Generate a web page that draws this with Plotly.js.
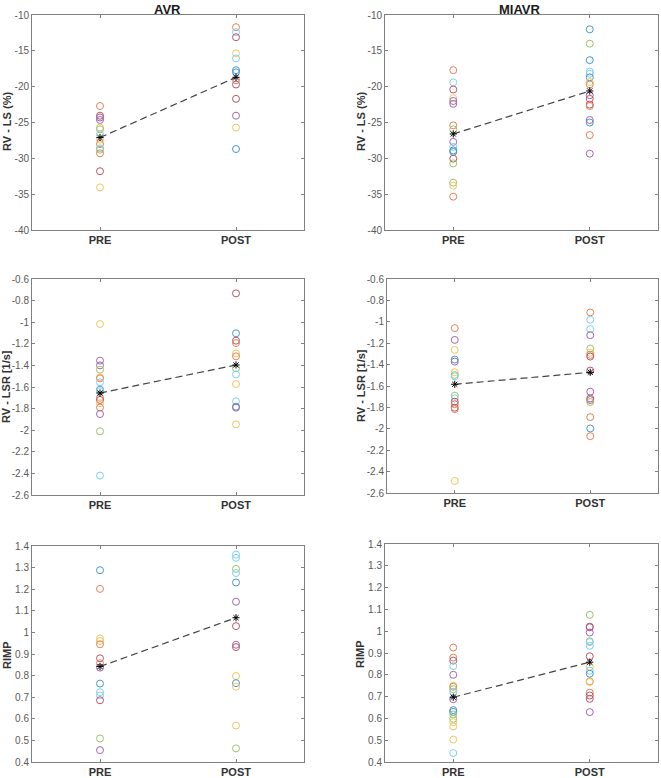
<!DOCTYPE html>
<html>
<head>
<meta charset="utf-8">
<script src="https://cdn.plot.ly/plotly-3.0.1.min.js"></script>
<style>html,body{margin:0;padding:0;background:#fff;}#chart{width:661px;height:778px;}</style>
</head>
<body>
<div id="chart"></div>
<script>
// ---- categories and labels ----
const groups = ['AVR', 'MIAVR'];
const xCats = ['PRE', 'POST'];
const metricLabels = ['RV - LS (%)', 'RV - LSR [1/s]', 'RIMP'];

// ---- tick labels ----
const lsTicks = [-40, -35, -30, -25, -20, -15, -10];
const lsTickText = ['-40', '-35', '-30', '-25', '-20', '-15', '-10'];
const lsrTicks = [-2.6, -2.4, -2.2, -2, -1.8, -1.6, -1.4, -1.2, -1, -0.8, -0.6];
const lsrTickText = ['-2.6', '-2.4', '-2.2', '-2', '-1.8', '-1.6', '-1.4', '-1.2', '-1', '-0.8', '-0.6'];
const rimpTicks = [0.4, 0.5, 0.6, 0.7, 0.8, 0.9, 1, 1.1, 1.2, 1.3, 1.4];
const rimpTickText = ['0.4', '0.5', '0.6', '0.7', '0.8', '0.9', '1', '1.1', '1.2', '1.3', '1.4'];

// ---- data: AVR RV-LS ----
const avrLsPre  = [-22.7, -24.05, -24.3, -24.65, -25.7, -25.95, -26.65, -27.4, -28.0, -28.6, -28.8, -29.3, -31.8, -34.05];
const avrLsPost = [-11.7, -12.4, -13.1, -15.35, -16.05, -17.7, -18.0, -19.1, -19.7, -21.7, -24.05, -25.7, -28.7];
const avrLsMean = [-27.1, -18.7];
// ---- data: MIAVR RV-LS ----
const miLsPre  = [-17.7, -19.4, -20.4, -21.6, -22.0, -22.4, -25.4, -25.95, -27.7, -28.4, -28.9, -29.1, -30.05, -30.7, -33.4, -33.8, -35.35];
const miLsPost = [-12.0, -14.0, -16.3, -17.9, -18.2, -18.7, -19.35, -19.7, -21.2, -21.7, -22.5, -22.7, -24.65, -25.0, -26.75, -29.35];
const miLsMean = [-26.6, -20.6];
// ---- data: AVR RV-LSR ----
const avrLsrPre  = [-1.017, -1.356, -1.40, -1.44, -1.51, -1.52, -1.557, -1.625, -1.64, -1.70, -1.72, -1.75, -1.79, -1.85, -2.01, -2.42];
const avrLsrPost = [-0.733, -1.103, -1.171, -1.193, -1.29, -1.316, -1.427, -1.483, -1.572, -1.733, -1.782, -1.791, -1.946];
const avrLsrMean = [-1.656, -1.396];
// ---- data: MIAVR RV-LSR ----
const miLsrPre  = [-1.059, -1.169, -1.2625, -1.353, -1.372, -1.472, -1.497, -1.51, -1.69, -1.716, -1.747, -1.769, -1.803, -1.816, -2.4875];
const miLsrPost = [-0.9125, -0.981, -1.069, -1.125, -1.25, -1.29, -1.309, -1.325, -1.456, -1.653, -1.716, -1.731, -1.75, -1.891, -1.997, -2.069];
const miLsrMean = [-1.584, -1.472];
// ---- data: AVR RIMP ----
const avrRimpPre  = [1.288, 1.2015, 0.972, 0.96, 0.945, 0.88, 0.857, 0.837, 0.763, 0.723, 0.708, 0.686, 0.509, 0.455];
const avrRimpPost = [1.36, 1.345, 1.294, 1.275, 1.231, 1.142, 1.029, 0.943, 0.932, 0.798, 0.765, 0.749, 0.569, 0.463];
const avrRimpMean = [0.842, 1.068];
// ---- data: MIAVR RIMP ----
const miRimpPre  = [0.925, 0.879, 0.865, 0.84, 0.80, 0.75, 0.745, 0.734, 0.722, 0.688, 0.638, 0.63, 0.618, 0.598, 0.583, 0.563, 0.503, 0.441];
const miRimpPost = [1.075, 1.021, 1.018, 0.994, 0.954, 0.95, 0.933, 0.885, 0.837, 0.819, 0.805, 0.770, 0.767, 0.718, 0.705, 0.690, 0.629];
const miRimpMean = [0.697, 0.858];

// ---- styles (MATLAB default colour order) ----
const palette = {b:'#0072BD', o:'#D95319', y:'#EDB120', p:'#7E2F8E', g:'#77AC30', c:'#4DBEEE', r:'#A2142F'};
const col = {
  avrLsPre:   'orppygcyocgory',
  avrLsPost:  'ocrycbborrpybg',
  miLsPre:    'ocryppogpcbbrggyo',
  miLsPost:   'bgbccbyoprropbop',
  avrLsrPre:  'yppgyocbcoryopgc',
  avrLsrPost: 'rbroyogcycbpy',
  miLsrPre:   'opybpygcgcroroy',
  miLsrPost:  'occpgyorrpprgobo',
  avrRimpPre: 'boyyoropbccrgp',
  avrRimpPost:'ccgcbprprybyyg',
  miRimpPre:  'oorcpyogcpbbggyyyc',
  miRimpPost: 'gprpgccrycboyorrp'
};

function colors(key, n) {
  const s = col[key];
  const out = [];
  for (let i = 0; i < n; i++) out.push(palette[s[i % s.length]] || palette.b);
  return out;
}

const panels = [
  {pre: avrLsPre,   post: avrLsPost,   mean: avrLsMean,   ck: ['avrLsPre','avrLsPost'],     ticks: lsTicks,   tt: lsTickText,   range: [-40, -10],  label: metricLabels[0]},
  {pre: miLsPre,    post: miLsPost,    mean: miLsMean,    ck: ['miLsPre','miLsPost'],       ticks: lsTicks,   tt: lsTickText,   range: [-40, -10],  label: metricLabels[0]},
  {pre: avrLsrPre,  post: avrLsrPost,  mean: avrLsrMean,  ck: ['avrLsrPre','avrLsrPost'],   ticks: lsrTicks,  tt: lsrTickText,  range: [-2.6, -0.6], label: metricLabels[1]},
  {pre: miLsrPre,   post: miLsrPost,   mean: miLsrMean,   ck: ['miLsrPre','miLsrPost'],     ticks: lsrTicks,  tt: lsrTickText,  range: [-2.6, -0.6], label: metricLabels[1]},
  {pre: avrRimpPre, post: avrRimpPost, mean: avrRimpMean, ck: ['avrRimpPre','avrRimpPost'], ticks: rimpTicks, tt: rimpTickText, range: [0.4, 1.4],  label: metricLabels[2]},
  {pre: miRimpPre,  post: miRimpPost,  mean: miRimpMean,  ck: ['miRimpPre','miRimpPost'],   ticks: rimpTicks, tt: rimpTickText, range: [0.4, 1.4],  label: metricLabels[2]}
];

// pixel boxes [left, right, top, bottom] for each panel frame
const W = 661, H = 778;
const boxes = [
  [32, 304, 15, 230], [385, 658, 15, 230],
  [32, 304, 279, 495], [387, 658, 279, 493],
  [32, 304, 546, 762], [385, 658, 544, 762]
];
const ylabPos = [[7, 122], [361, 122], [6, 387], [361, 386], [7, 655], [360, 654]];

const FONT = 'Liberation Sans, Arial, Helvetica, sans-serif';
const traces = [];
const layout = {
  width: W, height: H,
  margin: {l: 0, r: 0, t: 0, b: 0},
  paper_bgcolor: '#ffffff', plot_bgcolor: '#ffffff',
  showlegend: false,
  font: {family: FONT, size: 10, color: '#4a4a4a'},
  annotations: []
};

panels.forEach((p, i) => {
  const n = i + 1;
  const xa = n === 1 ? 'x' : 'x' + n;
  const ya = n === 1 ? 'y' : 'y' + n;
  const b = boxes[i];
  layout[n === 1 ? 'xaxis' : 'xaxis' + n] = {
    domain: [b[0] / W, b[1] / W], anchor: ya,
    range: [0.5, 2.5], tickvals: [1, 2], ticktext: xCats.map(t => '<b>' + t + '</b>'),
    tickfont: {family: FONT, size: 11, color: '#333333'},
    ticks: 'inside', ticklen: 3, tickcolor: '#808080',
    showline: true, linecolor: '#808080', linewidth: 1, mirror: 'ticks',
    showgrid: false, zeroline: false, fixedrange: true
  };
  layout[n === 1 ? 'yaxis' : 'yaxis' + n] = {
    domain: [1 - b[3] / H, 1 - b[2] / H], anchor: xa,
    range: p.range, tickvals: p.ticks, ticktext: p.tt,
    tickfont: {family: FONT, size: 10, color: '#5a5a5a'},
    ticks: 'inside', ticklen: 3, tickcolor: '#808080',
    showline: true, linecolor: '#808080', linewidth: 1, mirror: 'ticks',
    showgrid: false, zeroline: false, fixedrange: true
  };
  traces.push({
    type: 'scatter', mode: 'markers', xaxis: xa, yaxis: ya,
    x: p.pre.map(() => 1), y: p.pre,
    marker: {symbol: 'circle-open', size: 7, color: colors(p.ck[0], p.pre.length), line: {width: 1}},
    opacity: 0.72, hoverinfo: 'y'
  });
  traces.push({
    type: 'scatter', mode: 'markers', xaxis: xa, yaxis: ya,
    x: p.post.map(() => 2), y: p.post,
    marker: {symbol: 'circle-open', size: 7, color: colors(p.ck[1], p.post.length), line: {width: 1}},
    opacity: 0.72, hoverinfo: 'y'
  });
  traces.push({
    type: 'scatter', mode: 'lines+markers', xaxis: xa, yaxis: ya,
    x: [1, 2], y: p.mean,
    line: {color: '#444444', width: 1.2, dash: '7px,4px'},
    marker: {symbol: 'asterisk-open', size: 6, color: '#000000', line: {width: 1, color: '#000000'}},
    hoverinfo: 'y'
  });
  layout.annotations.push({
    xref: 'paper', yref: 'paper', x: ylabPos[i][0] / W, y: 1 - ylabPos[i][1] / H,
    xanchor: 'center', yanchor: 'middle', textangle: -90, showarrow: false,
    text: '<b>' + p.label + '</b>', font: {family: FONT, size: 11, color: '#333333'}
  });
});

// column titles
[[167, groups[0]], [520, groups[1]]].forEach(t => {
  layout.annotations.push({
    xref: 'paper', yref: 'paper', x: t[0] / W, y: 1,
    xanchor: 'center', yanchor: 'top', showarrow: false,
    text: '<b>' + t[1] + '</b>', font: {family: FONT, size: 13, color: '#1a1a1a'}
  });
});

Plotly.newPlot('chart', traces, layout, {displayModeBar: false, staticPlot: true});
</script>
</body>
</html>
